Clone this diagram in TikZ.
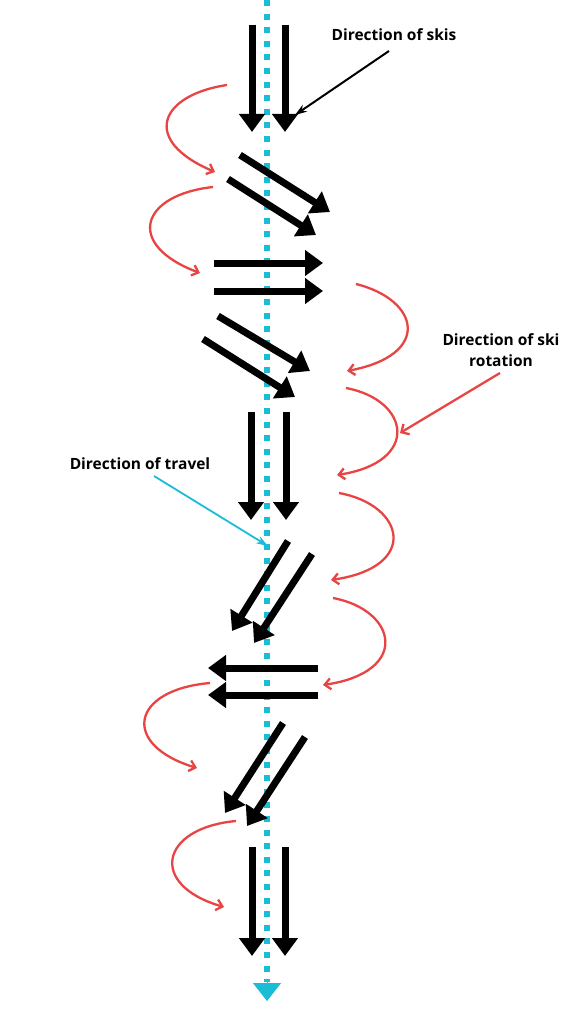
\documentclass[tikz,border=0pt]{standalone}
\usepackage{fontspec}
\setmainfont{Open Sans}
\usetikzlibrary{arrows.meta}
\definecolor{travelblue}{RGB}{26,188,214}
\definecolor{rotred}{RGB}{232,68,68}
\tikzset{
  ski/.style={line width=7pt, -{Triangle[length=18pt,width=25pt]}},
  rot/.style={rotred, line width=2.3pt, -{Straight Barb[length=6pt,width=11pt]}},
  label/.style={font=\fontsize{15.5}{21}\selectfont\bfseries, align=center, inner sep=0pt},
  pointer/.style={line width=2pt, -{Stealth[length=12pt,width=8pt]}},
}
\begin{document}
\begin{tikzpicture}[x=1pt,y=-1pt]
\useasboundingbox (0,0) rectangle (569,1024);
\fill[white] (0,0) rectangle (569,1024);
% direction of travel (dotted)
\coordinate (t0) at (267,0);
\coordinate (t1) at (267,982);
\coordinate (t2) at (267,1001);
\draw[travelblue, line width=6pt, dash pattern=on 6pt off 7.6pt] (t0) -- (t1);
\draw[travelblue, line width=1pt, -{Triangle[length=18pt,width=28pt]}] (t1) -- (t2);
% skis
\foreach \n/\ax/\ay/\bx/\by in {
  s1a/252/25/252/132, s1b/285/25/285/132,
  s2a/240/155/330/212, s2b/228/179/316/235,
  s3a/214/263/323/263, s3b/214/291/323/291,
  s4a/218/316/310/371, s4b/203/339/295/397,
  s5a/251/412/251/520, s5b/286/412/286/520,
  s6a/288/541/232/631, s6b/312/554/254/643,
  s7a/318/668/208/668, s7b/318/695/208/695,
  s8a/283/723/225/813, s8b/305/737/247/826,
  s9a/252/847/252/956, s9b/285/847/285/956}{
  \coordinate (\n-s) at (\ax,\ay);
  \coordinate (\n-e) at (\bx,\by);
  \draw[ski] (\n-s) -- (\n-e);
}
% rotation curves
\coordinate (r1s) at (227,85);  \coordinate (r1e) at (215,172);
\coordinate (r2s) at (213,187); \coordinate (r2e) at (200,273);
\coordinate (r3s) at (356,284); \coordinate (r3e) at (347,371);
\coordinate (r4s) at (346,388); \coordinate (r4e) at (337,475);
\coordinate (r5s) at (339,493); \coordinate (r5e) at (331,580);
\coordinate (r6s) at (333,598); \coordinate (r6e) at (323,685);
\coordinate (r7s) at (210,683); \coordinate (r7e) at (197,768);
\coordinate (r8s) at (236,821); \coordinate (r8e) at (224,907);
\draw[rot] (r1s) .. controls (160,95) and (140,140) .. (r1e);
\draw[rot] (r2s) .. controls (140,195) and (125,245) .. (r2e);
\draw[rot] (r3s) .. controls (420,300) and (432,355) .. (r3e);
\draw[rot] (r4s) .. controls (410,400) and (421,462) .. (r4e);
\draw[rot] (r5s) .. controls (405,505) and (420,567) .. (r5e);
\draw[rot] (r6s) .. controls (397,610) and (411,672) .. (r6e);
\draw[rot] (r7s) .. controls (130,690) and (121,745) .. (r7e);
\draw[rot] (r8s) .. controls (160,828) and (148,885) .. (r8e);
% labels
\node[label] (lskis) at (394,35) {Direction of skis};
\node[label] (lrot) at (501,350) {Direction of ski\\rotation};
\node[label] (ltravel) at (140,464) {Direction of travel};
\coordinate (p1s) at (389,51);  \coordinate (p1e) at (295,115);
\coordinate (p2s) at (500,373); \coordinate (p2e) at (400,433);
\coordinate (p3s) at (154,476); \coordinate (p3e) at (268,546);
\draw[pointer, black] (p1s) -- (p1e);
\draw[rotred, line width=2.3pt, -{Straight Barb[length=6pt,width=12pt]}] (p2s) -- (p2e);
\draw[pointer, travelblue, line width=1.8pt] (p3s) -- (p3e);
\end{tikzpicture}
\end{document}
